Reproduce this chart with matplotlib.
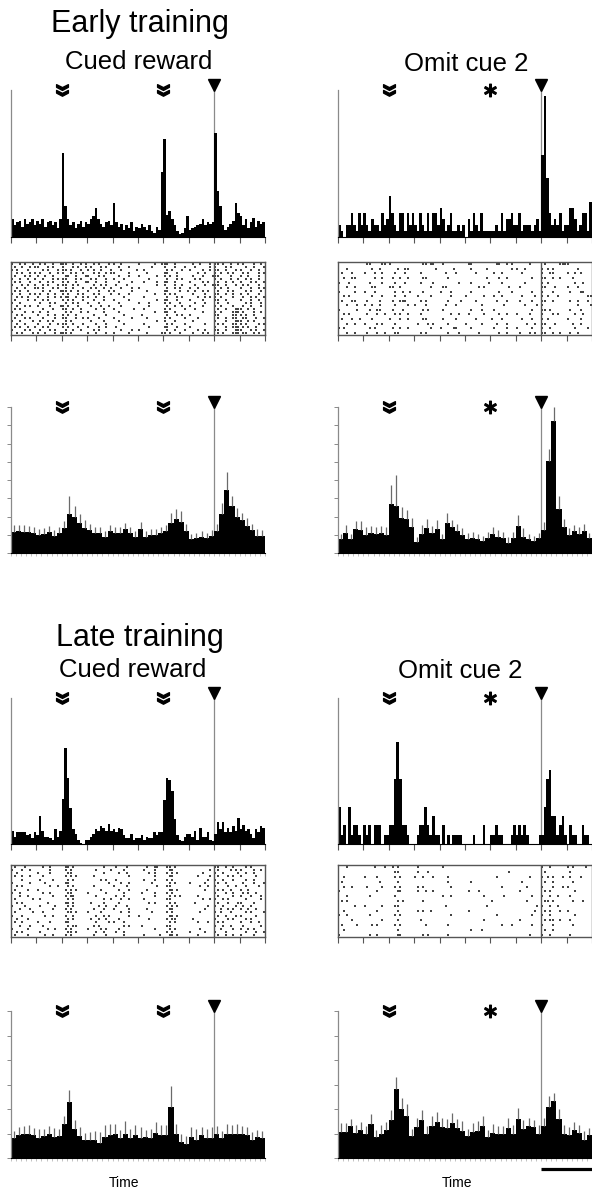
import numpy as np
import matplotlib.pyplot as plt
from matplotlib.path import Path

plt.rcParams['font.family'] = ['Liberation Sans', 'DejaVu Sans']

# === Event times (arbitrary time units, ticks 0..10) ===
cue1_t = 2.0
cue2_t = 6.0
reward_t = 8.0
scale_bar = (8.0, 10.0)

# === Single-unit PSTHs (100 bins of 0.1) ===
early_cued_psth = [
    .12, .08, .10, .11, .07, .12, .09, .10, .12, .08,
    .11, .09, .12, .07, .10, .11, .08, .10, .06, .12,
    .57, .21, .12, .08, .10, .06, .09, .11, .07, .10,
    .09, .12, .14, .20, .12, .09, .07, .10, .11, .08,
    .23, .10, .07, .09, .05, .08, .06, .10, .04, .07,
    .06, .09, .07, .05, .08, .04, .03, .07, .05, .44,
    .67, .15, .18, .12, .08, .04, .02, .03, .06, .14,
    .05, .06, .07, .08, .09, .12, .08, .10, .09, .10,
    .71, .31, .21, .08, .05, .07, .09, .11, .23, .16,
    .14, .08, .12, .06, .10, .13, .07, .11, .09, .10]

early_omit_counts = [
    2, 1, 0, 2, 2, 4, 2, 1, 4, 2,
    4, 2, 1, 3, 2, 2, 1, 4, 2, 3,
    7, 4, 2, 1, 4, 4, 1, 4, 2, 4,
    2, 1, 4, 2, 1, 4, 1, 4, 4, 2,
    5, 3, 1, 2, 4, 1, 1, 2, 1, 2,
    0, 3, 1, 4, 2, 1, 4, 1, 1, 1,
    1, 1, 2, 1, 4, 1, 3, 3, 4, 2,
    2, 4, 1, 2, 2, 2, 1, 2, 3, 1,
    14, 24, 10, 4, 2, 3, 2, 4, 1, 2,
    2, 5, 5, 3, 1, 2, 4, 4, 1, 6]
early_omit_max = 25.0

late_cued_psth = [
    .09, .05, .08, .08, .08, .08, .06, .07, .04, .08,
    .06, .19, .09, .05, .05, .04, .03, .10, .05, .09,
    .31, .66, .45, .25, .10, .07, .03, .01, .00, .03,
    .03, .05, .07, .10, .09, .12, .11, .09, .14, .09,
    .10, .08, .11, .10, .06, .04, .04, .07, .03, .04,
    .04, .06, .03, .05, .04, .04, .08, .06, .08, .08,
    .30, .45, .44, .36, .17, .06, .03, .02, .05, .07,
    .07, .05, .09, .03, .11, .05, .05, .08, .03, .02,
    .07, .15, .10, .15, .08, .11, .08, .12, .09, .18,
    .10, .13, .09, .10, .07, .04, .10, .08, .12, .11]

late_omit_counts = [
    4, 1, 2, 0, 4, 1, 2, 2, 1, 0,
    2, 1, 2, 0, 2, 2, 2, 0, 1, 1,
    2, 2, 7, 11, 7, 2, 2, 1, 0, 0,
    0, 1, 2, 2, 4, 2, 1, 3, 1, 1,
    0, 2, 0, 1, 0, 1, 1, 1, 1, 0,
    0, 0, 0, 1, 0, 0, 0, 2, 0, 0,
    1, 1, 2, 1, 1, 0, 0, 0, 1, 2,
    1, 2, 1, 2, 1, 0, 0, 0, 0, 1,
    1, 4, 7, 8, 3, 3, 1, 2, 3, 1,
    0, 2, 1, 1, 0, 0, 2, 1, 1, 0]
late_omit_max = 15.7

# === Population averages (50 bins of 0.2), mean and s.e.m. ===
early_cued_mean = [
    1.15, 1.2, 1.15, 1.15, 1.1, 1.0, 1.05, 1.15, 0.95, 1.1,
    1.35, 2.15, 1.95, 1.65, 1.35, 1.25, 1.1, 1.1, 0.9, 1.2,
    1.1, 1.1, 1.3, 1.1, 0.9, 1.3, 0.9, 1.0, 1.0, 1.1,
    1.2, 1.65, 1.85, 1.7, 1.2, 0.75, 0.8, 0.85, 0.8, 0.95,
    1.2, 2.15, 3.45, 2.55, 2.0, 1.8, 1.5, 1.25, 0.95, 0.95]
early_cued_sem = [
    0.4, 0.35, 0.4, 0.35, 0.3, 0.3, 0.3, 0.35, 0.3, 0.35,
    0.4, 0.95, 0.6, 0.5, 0.45, 0.35, 0.3, 0.35, 0.3, 0.35,
    0.3, 0.3, 0.35, 0.3, 0.3, 0.4, 0.3, 0.3, 0.3, 0.35,
    0.35, 0.55, 0.55, 0.6, 0.4, 0.3, 0.3, 0.35, 0.3, 0.3,
    0.4, 0.6, 1.0, 0.6, 0.45, 0.4, 0.4, 0.35, 0.35, 0.3]

early_omit_mean = [
    0.75, 1.1, 0.75, 1.3, 1.25, 1.0, 1.1, 1.05, 1.1, 1.0,
    2.7, 2.6, 1.9, 1.85, 1.4, 0.6, 1.05, 1.35, 1.1, 1.3,
    0.75, 1.65, 1.4, 1.2, 1.0, 0.75, 0.8, 0.75, 0.65, 0.8,
    1.05, 0.9, 0.8, 0.55, 0.8, 1.5, 0.9, 0.75, 0.65, 0.8,
    1.25, 5.05, 7.25, 2.4, 1.45, 1.0, 1.2, 1.05, 1.2, 0.8]
early_omit_sem = [
    0.3, 0.45, 0.3, 0.45, 0.5, 0.4, 0.4, 0.35, 0.4, 0.45,
    1.05, 1.7, 0.6, 0.5, 0.5, 0.3, 0.5, 0.5, 0.4, 0.5,
    0.3, 0.55, 0.4, 0.4, 0.35, 0.35, 0.35, 0.3, 0.3, 0.35,
    0.4, 0.35, 0.35, 0.3, 0.35, 0.6, 0.45, 0.3, 0.3, 0.3,
    0.45, 0.65, 0.75, 0.7, 0.4, 0.35, 0.35, 0.35, 0.4, 0.3]

late_cued_mean = [
    0.8, 0.93, 1.0, 1.0, 0.93, 0.83, 0.9, 1.0, 0.86, 0.9,
    1.4, 2.3, 1.2, 0.9, 0.72, 0.75, 0.75, 0.6, 0.86, 0.93,
    1.0, 0.8, 1.0, 0.83, 0.93, 0.83, 0.86, 0.83, 1.03, 0.93,
    0.93, 2.1, 1.0, 0.65, 0.56, 0.86, 0.75, 0.93, 0.8, 0.8,
    0.97, 0.8, 1.0, 1.0, 0.97, 0.97, 0.93, 0.72, 0.86, 0.82]
late_cued_sem = [
    0.3, 0.35, 0.3, 0.35, 0.3, 0.35, 0.3, 0.3, 0.35, 0.3,
    0.3, 0.48, 0.37, 0.35, 0.3, 0.3, 0.35, 0.45, 0.5, 0.45,
    0.4, 0.35, 0.5, 0.35, 0.4, 0.45, 0.3, 0.35, 0.45, 0.4,
    0.4, 0.82, 0.4, 0.35, 0.35, 0.4, 0.45, 0.35, 0.4, 0.45,
    0.35, 0.3, 0.4, 0.35, 0.4, 0.35, 0.35, 0.35, 0.3, 0.3]

late_omit_mean = [
    1.07, 1.07, 1.3, 1.03, 1.13, 1.0, 1.38, 0.86, 1.0, 1.13,
    1.57, 2.8, 1.98, 1.7, 0.9, 1.27, 1.55, 0.96, 1.3, 1.48,
    1.27, 1.23, 1.44, 1.23, 1.1, 0.9, 1.07, 1.1, 1.3, 0.86,
    1.03, 0.96, 1.0, 1.23, 1.0, 1.59, 1.2, 1.3, 1.25, 1.0,
    1.3, 2.1, 2.34, 1.6, 1.0, 0.93, 1.13, 1.04, 0.75, 0.93]
late_omit_sem = [
    0.35, 0.35, 0.3, 0.3, 0.35, 0.3, 0.4, 0.3, 0.35, 0.35,
    0.4, 0.52, 0.45, 0.5, 0.3, 0.35, 0.4, 0.35, 0.4, 0.4,
    0.35, 0.35, 0.4, 0.35, 0.4, 0.3, 0.35, 0.4, 0.4, 0.3,
    0.35, 0.35, 0.3, 0.4, 0.35, 0.45, 0.35, 0.35, 0.3, 0.35,
    0.35, 0.45, 0.3, 0.4, 0.35, 0.35, 0.35, 0.3, 0.35, 0.3]

# === Rasters: one string per trial, 100 bins of 0.1, 'x' = spike ===
early_cued_raster = [
    "x..x.x..x. .x.x..x..x xx..x..x.x ..x.x...x. x..x...... x.....x..x xx..x..... .x..x...x. xx.x..x..x .x...x..x.",
    ".x..x..x.x x...x.x... x...x.x..x .x...x.x.. ..x...x... .....x.... x...x...x. ..x.....x. x...x.x... ..x..x...x",
    "x.x...x... ..x.x...x. xx.x...x.. x.x..x...x ...x.....x ..x....... .x.x...x.. x....x..x. xx..x...x. x...x..x..",
    "..x.x..x.x .x...x..x. x..x.x..x. ..x.x..x.x x.....x... ...x...... xx...x.... ...x..x... x.x..x.x.. .x.x...x.x",
    ".x...x.x.. x..x..x... .xx..x...x x...x.x... ..x...x... x......x.. x.x..x.... .x...x...x xx....x... x..x...x..",
    "x..x..x..x ..x...x.x. xx...x.x.. .x.x...x.. x...x..... ....x..... .x...x.x.. ..x.x..... x.x...x..x ..x.x..x..",
    ".x.x...x.. .x..x.x... x.x..x...x x..x...x.. ..x....x.. ..x....x.. xx..x..... x....x.x.. .x..x..x.. x...x.x..x",
    "x...x.x..x ..x.x...x. xx..x.x... ..x..x.x.. .x...x.... .......x.. x...x..x.. ..x...x..x xx..x...x. .x.x...x..",
    "..x..x...x x.x...x.x. .x..x...x. .x.x..x..x ...x...x.. x......... .x..x.x... x..x...... x.x..x.... x...x..x.x",
    ".x.x..x... ..x..x...x xx.x..x... x...x...x. x......x.. ...x...... xx....x..x ..x..x.x.. .x...x.x.. ..x.x...x.",
    "x..x...x.x .x..x..x.. x.x...x.x. ..x.x....x ..x...x... ......x... x.x.x..... .x....x... xx..x..x.. x..x...x..",
    "..x.x.x... x...x..x.x .xx..x..x. x..x..x... ....x..... ..x....... .x...x.x.. ...x..x.x. x.x....x.. .x..x.x..x",
    ".x....x..x ..x.x..... x.x.x...x. ..x...x... x.....x... .......x.. xx...x.... x....x.... xx..x..... x...x..x..",
    "x..x...... .x...x.x.. .x..x.x... x...x..... ..x....... x...x..... x.x...x... ..x...x... .x...x.... ..x.x...x.",
    "..x..x.x.. x....x...x x.x...x... .x...x..x. ...x...... ....x..... .x..x..x.. x....x.... x.x....x.. .x..x...x.",
    ".x.x...... ..x...x... xx..x..x.. ...x..x... x.......x. ..x....... x.x.....x. ..x....... .x..x...xx x..x.x....",
    "x....x..x. .x..x..... .x.x...x.. x.....x... ..x....... ......x... xx..x..... .....x.... x.x....xxx .x...x..x.",
    "..x.x..... x...x..x.. x.x..x.... ..x....x.. ....x..... .x........ .x...x.x.. x......... xx.....xx. x.x..x....",
    ".x...x.x.. ..x....x.. xx...x..x. x...x..... x......x.. ...x...... x.x.....x. ...x...... .x..x..xx. .xx...x..x",
    "x..x....x. .x..x.x... .x.x...... .x....x... ..x....... .......x.. x...x..... .x........ x...x...xx x..x.x....",
    "..x..x.... x....x..x. xx..x...x. ...x...x.. ....x..... ..x....... .x.x....x. ......x... .x.x...xx. x.x....x.x",
    ".x.x..x..x ..x.x..... x.x...x... x...x..x.. .x........ ....x..... xx...x.... x......... x...x..xxx .x.x..x...",
    "x....x.x.. .x...x.x.. .x..x..x.. ..x.x..... ...x...x.. x......... .x..x...x. ...x..x... xx..x...xx x...x.x..x",
    "..x.x...x. x..x...x.x xx.x...... x..x...x.. x.....x... ...x.....x x.x...x... .x...x.x.. .x.x...xxx .xx..x.x..",
]

early_omit_raster = [
    ".......... .xx....xx. x......... ...xx.xx.. .x........ .xx....... ..xx..x.x. .....x.... .x.....xxx x.........",
    "...x...... ...x..x... ...x..xx.. ........x. .....x.... ..x.....x. ........x. x..x...... x.x.x..... ....x.....",
    ".x...x.... x...x..x.. ..x...x... ..x....... ..x...x... ....x..... .x..x..... ..x....... x..xx..... x..x.x....",
    "..x..xx... ....x..x.. .x..x..x.. ...xx..... ...x...... ........x. ...x..x... ......x... xx..x..x.. ..x.......",
    "x...x..... ..x....x.. ..x...x... ..x....x.. .......x.. ..x......x ....x..... ...x...... x.x....... ...x..x...",
    "...x..x... ...xx..... xx..x..... ......x... .xx....... .....x.x.. .......x.. .x........ xx...x.... x...x.....",
    "x.....x... x...x..... ..x..x..x. ...x...... x...x..... ..x....... ...x....x. ......x... x...x..... .x...xx...",
    "..x.x..... ...x...x.. ..x...x... .x....x... ....x..... x......x.. .x..x..... ..x....x.. x.x...x... ........xx",
    ".x...xx... .x....x... .x..xxx... ..x.x..... ...x....x. ....x..... ..x...x... .x....x... xx..x..... .x..x...x.",
    "...x...x.. x..x..x... ..x....x.. x...x..... ..x...x... ......x... .....x.... ...x....x. x......... ....x....x",
    "x......x.. ..x..xx... .x...x.... ...x.x.... .x........ ..x...x... .x........ ......x... xx.x...... .x...x....",
    "..x.x..... .x...x..x. ..x.x..x.. ..x....... ....x..x.. .x.....x.. ...x..x... x....x.... x...x.x... ...x..x...",
    ".x...x..x. ...x...... x...x..x.. ...xx..... .x....x... ....x..... x...x..... ..x...x... x.x....... x....x....",
    "...x..x... x....x.x.. ..x....... .x...x.x.. ...x...... x.....x... ..x...x... ....x..x.. xx...x.... ..x..x....",
    "x.x....... ..x.x..... .x..x..x.. ......x... x....xx... ..x....... .x....x... x.....x... x..x...... ...x....x.",
    "...x..x... .x...x..x. ..xx...... ..x.x..... ...x...x.. .....x.... ...x..x... .x...x.x.. xx..x..x.. .x..x.....",
]

late_cued_raster = [
    ".x...x.... ..x..x.... .xx.x..... ......x... .x...x.... ...x..xx.. .xx.x..... .......... xx..x..x.. ..x.x.....",
    "x...x..x.. .....x.... .x.x...... ...x.....x ....x..... ..x...x... ..xx...... ........x. .x....x.x. x....x..x.",
    "..x....... x....x.... ..xx...... ......x... ..x..x.... ....x.x... .x.x.x.... .....x.... x..x.....x ..x..x....",
    ".x..x..x.. ..x....... .x.x.x.... ..x....... ......x... ......x... ..xx...... ...x....x. .x...x.x.. x.....x...",
    "....x..... .x....x... ..x.x..... .....x.x.. .x........ ..x...x... .x.x...... .......x.. x..x...x.. ..x..x....",
    "x......x.. ...x...... .xx....... ........x. ...x..x... .....x.... ..x.x..... x.....x... .x..x..... .x...x...x",
    "..x.x..... .....x..x. ..x.x..... ..x....... x....x.... .......x.. .xx....... ....x..x.. x....x..x. ..x....x..",
    ".x....x... x......... .x.x.x.... .....x.... ..x...x... ...x...... ..xx.x.... ......x... .x.x..x... x..x......",
    "x..x...... ..x..x.... ..xx...... x......x.. ....x..... .x....x... .x.x...... .......... x...x..x.. .x.x..x...",
    "...x..x... ......x... .x.xx..... ...x...... .x..x..... ......x... ..x.x.x... ...x...... .x.....x.. x...x...x.",
    ".x......x. .x........ ..x.x..... ......x..x ...x..x... ..x....... .xx....... .....x..x. x..x.x.... ..x.....x.",
    "..x.x..... ....x..... .xx.x..... .x....x... ..x....... ....x.x... ..x.x..... ..x....... .x...x...x x....x....",
    "x....x.... .x.....x.. ..x.x..... ....x..x.. .x...x.... .......... .x.x.x.... .......x.. x..x....x. .x..x.....",
    "...x...x.. ......x... .x.x...... ..x...x... x.....x... ...x...... ..xx...... ......x... ..x..x.x.. x..x..x...",
    ".x......x. ..x....... ..xx.x.... x....x.... ...x..x... .....x.... .x.x...... ....x..... x.x...x... ..x.x....x",
    "x...x..... ...x..x... .x..x..... ...x..x.x. ......x... x......... ..xx.x.... .......... .x..x...x. x.....x...",
    "..x...x... .......... ..x.x..... .x..x..x.. ..x....... ....x..... .x.xx..... .x........ x....x.x.. ..x.x.....",
    ".x..x..... x....x.... .xx....... ...x....x. x...x..... .......... ..x.x..... ...x...x.. .x.x...... x...x..x..",
    "...x...x.. ..x....... ..x.xx.... ..x.x..... ....x.x... .x........ .xx....... .......... x..x..x... .x......x.",
    "x.....x... ....x..x.. .x.x...... x....x.x.. ..x....... ......x... ..x.x..... ....x..... ..x....x.. x..x.x....",
    "..x.x..... .x........ ..xx.x.... ...x..x... .x..x..... .......... .x.x...... x.....x... x...x..... ..x...x..x",
    ".x....x... ...x..x... .x.x...... ..x....x.. ....x..... ..x.....x. ..xx.x.... ...x...... .x..x..x.. x....x....",
]

late_omit_raster = [
    "...x...... ....x...x. .x.x...... .x........ .x........ .......... .......... .......... x..x...... x.x....x..",
    ".......... .......... ..xx...... .x...x.... .......... .......... .......x.. .......... .x........ .x........",
    "..x....... x....x.... ..x.x..... x..x...x.. ...x...... .......... ..x....... .....x.... x.x.x...x. .x...x....",
    ".x........ ......x... ...x...... .......... ...x...... ..x....... .......... ..x....... .x..x..... ..x.......",
    "..x..x.... .x.....x.. ..x.x..... .x.x...... ....x..... .......... ....x..... ....x..... x...x...x. x.........",
    "x......... .....x.... ...xx..... .x..x..x.. .......... .x...x.... .......... .x........ .x.x...... ...x......",
    "...x...... ..x....... ..x....... .......... .x..x..... .......x.. .....x.... ......x... x..x..x... .x........",
    ".x.x...... .......... ...x.x.... ...x...... .......... .......... x......... ....x..... .xx.x..... ..x...x...",
    "......x... x......x.. ..xx...... .......... ..x....... ........x. .......... ........x. x..x..x... ..........",
    "..x....... .....x.... ...x...... .x.x..x... .......... .x........ .......... .......x.. .x.x...x.. x.........",
    "x..x...... ..x....... ..x.x..... .......... ....x..... .......... ..x....... ......x... x..x...... ...x......",
    ".....x.... .......x.. ...x...... ..x....... .......... .......x.. .......... .x........ .x.xx..x.. .x........",
    ".x.....x.. ...x.x.... ..x.x..... ....x..... ...x...... .......... ....x...x. ......x... x...x..... ..x.......",
    "..x....... .......... ...x...... .......... .......... ..x...x... .......... .......... .x..x..... ..........",
    "x......... ..x..x.... ...xx..... ...x.x.... ...x...... .......... .......... .....x.... x..x...... .x........",
]

# === Figure layout in pixels ===
W, H = 592, 1190
fig = plt.figure(figsize=(W / 100, H / 100), dpi=100)


def px_axes(x0, y0, x1, y1):
    return fig.add_axes([x0 / W, 1 - y1 / H, (x1 - x0) / W, (y1 - y0) / H])


cols = [(11, 265), (338, 592)]

chev = np.array([(-1, 1.0), (0, 0.5), (1, 1.0), (1, 0.55), (0, 0.02), (-1, 0.55), (-1, 1.0)])
chev_verts = np.vstack([chev, chev - [0, 0.98]]) - [0, 0.01]
chev_codes = ([Path.MOVETO] + [Path.LINETO] * 5 + [Path.CLOSEPOLY]) * 2
chevron = Path(chev_verts, chev_codes)


def event_marks(ax, h_px, omit):
    tr = ax.get_xaxis_transform()
    ax.plot([cue1_t], [1.0], marker=chevron, ms=8.5, color='black', transform=tr, clip_on=False)
    if omit:
        ax.plot([cue2_t], [1.0], marker=r'$\ast$', ms=9, color='black',
                transform=tr, clip_on=False)
    else:
        ax.plot([cue2_t], [1.0], marker=chevron, ms=8.5, color='black', transform=tr, clip_on=False)
    ax.plot([reward_t], [1 + 5.5 / h_px], marker='v', ms=8.5, color='black',
            transform=tr, clip_on=False)
    ax.axvline(reward_t, color='#8a8a8a', lw=0.9, zorder=1)


def style_common(ax):
    ax.set_xlim(0, 10)
    for s in ['top', 'right']:
        ax.spines[s].set_visible(False)
    ax.spines['left'].set_color('#8a8a8a')
    ax.spines['left'].set_linewidth(0.9)
    ax.spines['bottom'].set_color('black')
    ax.spines['bottom'].set_linewidth(0.8)
    ax.set_xticklabels([])
    ax.set_yticklabels([])


def psth(ax, vals, ymax, h_px, omit):
    edges = np.arange(len(vals)) * 0.1
    ax.bar(edges, vals, width=0.1, align='edge', color='black', lw=0, zorder=2)
    ax.set_ylim(0, ymax)
    style_common(ax)
    ax.set_yticks([])
    ax.set_xticks(np.arange(0, 11))
    ax.tick_params(axis='x', direction='out', length=4, width=0.8, color='#555')
    event_marks(ax, h_px, omit)


def raster(ax, rows):
    for i, row in enumerate(rows):
        row = row.replace(' ', '')
        t = [(j + 0.5) * 0.1 for j, ch in enumerate(row) if ch == 'x']
        ax.scatter(t, [len(rows) - i - 0.5] * len(t), marker='s', s=1.0, color='#444', lw=0)
    ax.set_xlim(0, 10)
    ax.set_ylim(0, len(rows))
    for s in ax.spines.values():
        s.set_color('#555')
        s.set_linewidth(1.0)
    ax.axvline(reward_t, color='#555', lw=1.0)
    ax.set_yticks([])
    ax.set_xticks(np.arange(0, 11))
    ax.set_xticklabels([])
    ax.tick_params(axis='x', direction='out', length=4, width=0.8, color='#555')


def population(ax, mean, sem, ymax, h_px, omit):
    edges = np.arange(len(mean)) * 0.2
    mean = np.array(mean)
    sem = np.array(sem)
    ax.bar(edges, mean, width=0.2, align='edge', color='black', lw=0, zorder=2)
    ax.vlines(edges + 0.1, mean, mean + sem, color='#6a6a6a', lw=0.9, zorder=3)
    ax.set_ylim(0, ymax)
    style_common(ax)
    ax.set_yticks(np.arange(0, ymax + 1))
    ax.set_xticks(np.arange(0, 10.01, 0.2))
    ax.set_xticklabels([])
    ax.tick_params(axis='y', direction='out', length=3, width=0.7, color='#8a8a8a')
    ax.tick_params(axis='x', direction='out', length=2, width=0.5, color='#aaa')
    event_marks(ax, h_px, omit)


# === Early training ===
ax = px_axes(cols[0][0], 90, cols[0][1], 237)
psth(ax, early_cued_psth, 1.0, 147, False)
ax = px_axes(cols[1][0], 90, cols[1][1], 237)
psth(ax, early_omit_counts, early_omit_max, 147, True)

ax = px_axes(cols[0][0], 262, cols[0][1], 335)
raster(ax, early_cued_raster)
ax = px_axes(cols[1][0], 262, cols[1][1], 335)
raster(ax, early_omit_raster)

ax = px_axes(cols[0][0], 407, cols[0][1], 553)
population(ax, early_cued_mean, early_cued_sem, 8, 146, False)
ax = px_axes(cols[1][0], 407, cols[1][1], 553)
population(ax, early_omit_mean, early_omit_sem, 8, 146, True)

# === Late training ===
ax = px_axes(cols[0][0], 698, cols[0][1], 844)
psth(ax, late_cued_psth, 1.0, 146, False)
ax = px_axes(cols[1][0], 698, cols[1][1], 844)
psth(ax, late_omit_counts, late_omit_max, 146, True)

ax = px_axes(cols[0][0], 865, cols[0][1], 937)
raster(ax, late_cued_raster)
ax = px_axes(cols[1][0], 865, cols[1][1], 937)
raster(ax, late_omit_raster)

ax = px_axes(cols[0][0], 1011, cols[0][1], 1158)
population(ax, late_cued_mean, late_cued_sem, 6, 147, False)
ax = px_axes(cols[1][0], 1011, cols[1][1], 1158)
population(ax, late_omit_mean, late_omit_sem, 6, 147, True)
ax.plot(scale_bar, [-11 / 147] * 2, color='black', lw=2.3, solid_capstyle='butt',
        transform=ax.get_xaxis_transform(), clip_on=False)

# === Text ===
def ftext(x, y, s, size):
    fig.text(x / W, 1 - y / H, s, ha='center', va='baseline', fontsize=size)


ftext(140, 32, 'Early training', 22)
ftext(139, 69, 'Cued reward', 18.5)
ftext(466, 71, 'Omit cue 2', 18.5)
ftext(140, 646, 'Late training', 22)
ftext(133, 677, 'Cued reward', 18.5)
ftext(460, 678, 'Omit cue 2', 18.5)
ftext(124, 1187, 'Time', 10)
ftext(457, 1187, 'Time', 10)

fig.savefig('out.png', dpi=100)
